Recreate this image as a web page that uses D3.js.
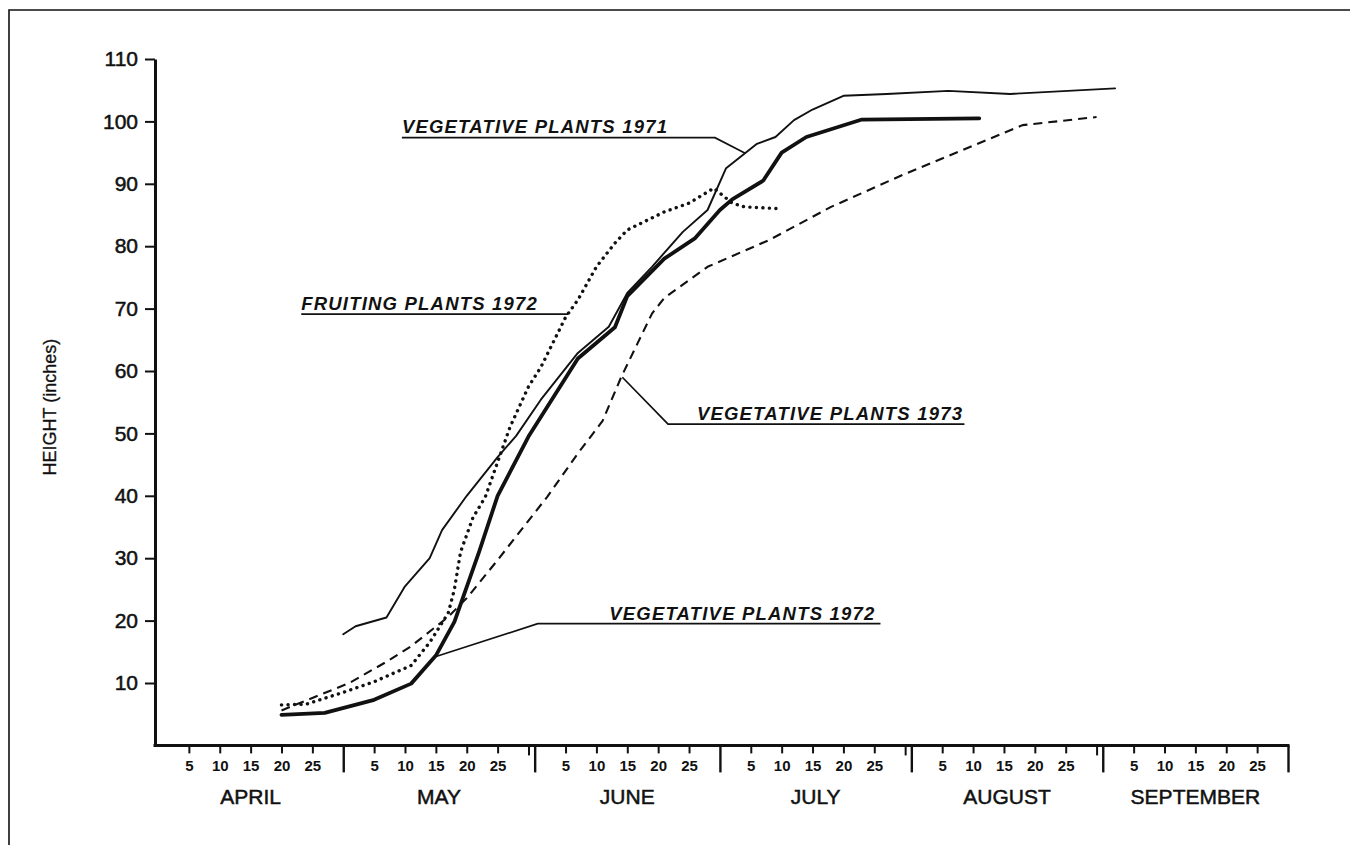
<!DOCTYPE html>
<html>
<head>
<meta charset="utf-8">
<script src="https://cdn.jsdelivr.net/npm/d3@7"></script>
<style>
  body { margin: 0; background: #fff; }
  svg { display: block; }
  text { fill: #111; }
</style>
</head>
<body>
<svg id="chart" width="1350" height="845"></svg>
<script>
// ---------- DATA ----------
const months = ["APRIL", "MAY", "JUNE", "JULY", "AUGUST", "SEPTEMBER"];
const dayTickLabels = [5, 10, 15, 20, 25];
const yTickValues = [10, 20, 30, 40, 50, 60, 70, 80, 90, 100, 110];
const yTitle = "HEIGHT (inches)";

// Vegetative plants 1972 (heavy solid line)
const veg1972Dates   = ["04-20","04-27","05-05","05-11","05-15","05-18","05-22","05-25","05-30","06-07","06-13","06-15","06-21","06-26","06-30","07-02","07-07","07-10","07-14","07-23","08-11"];
const veg1972Heights = [4.9, 5.2, 7.3, 9.9, 14.4, 19.8, 31, 40, 49.5, 62, 67, 72, 78, 81.3, 85.8, 87.5, 90.5, 95, 97.5, 100.3, 100.5];

// Vegetative plants 1971 (thin solid line)
const veg1971Dates   = ["04-30","05-02","05-07","05-10","05-14","05-16","05-20","05-25","05-28","06-01","06-07","06-12","06-15","06-19","06-24","06-28","07-01","07-06","07-09","07-12","07-15","07-20","07-27","08-06","08-16","09-02"];
const veg1971Heights = [17.8, 19.1, 20.5, 25.5, 30, 34.5, 40, 46.2, 49.6, 55.4, 62.9, 67.1, 72.5, 76.7, 82.3, 85.8, 92.5, 96.4, 97.5, 100.2, 101.9, 104.1, 104.4, 104.9, 104.4, 105.3];

// Fruiting plants 1972 (dotted line)
const fruit1972Dates   = ["04-20","04-24","04-30","05-05","05-11","05-14","05-17","05-18","05-19","05-21","05-23","05-27","05-30","06-01","06-05","06-07","06-10","06-13","06-15","06-21","06-25","06-29","07-02","07-04","07-10"];
const fruit1972Heights = [6.5, 6.6, 8.5, 10.2, 12.8, 16.5, 21.2, 25, 31, 36.5, 39.8, 51, 57.5, 60.6, 68.6, 71.4, 76.7, 80.5, 82.6, 85.5, 86.9, 89.3, 86.9, 86.3, 86];

// Vegetative plants 1973 (dashed line)
const veg1973Dates   = ["04-20","04-25","05-01","05-07","05-11","05-17","05-20","05-25","06-02","06-07","06-11","06-14","06-19","06-21","06-28","07-08","07-18","07-30","08-18","08-30"];
const veg1973Heights = [5.6, 7.6, 10, 13.4, 15.9, 20.6, 23.6, 29.7, 39.8, 46.8, 52, 59, 69.2, 71.7, 76.7, 81, 86.3, 91.6, 99.4, 100.7];

// Annotation texts
const labelTexts = ["VEGETATIVE PLANTS 1971", "FRUITING PLANTS 1972", "VEGETATIVE PLANTS 1973", "VEGETATIVE PLANTS 1972"];

// ---------- HELPERS ----------
const YEAR = 2001;
const md = s => new Date(Date.UTC(YEAR, +s.slice(0, 2) - 1, +s.slice(3)));
const mdf = (m, d) => new Date(Date.UTC(YEAR, m - 1, 0) + d * 864e5); // day d (fractional) of month m
const zip = (ds, vs) => ds.map((d, i) => ({ date: md(d), v: vs[i] }));

const svg = d3.select("#chart");
const ink = "#111";
const FONT = "'Liberation Sans', Arial, sans-serif";

// frame
svg.append("path")
  .attr("d", "M9,845V10H1350")
  .attr("fill", "none").attr("stroke", ink).attr("stroke-width", 1.6);

// ---------- SCALES ----------
const x = d3.scaleUtc()
  .domain([new Date(Date.UTC(YEAR, 2, 31)), new Date(Date.UTC(YEAR, 8, 30))])
  .range([158, 1288]);
const y = d3.scaleLinear().domain([0, 110]).range([745.4, 59]);
const axisX0 = 155;

// ---------- Y AXIS ----------
const yAxis = svg.append("g")
  .attr("transform", `translate(${axisX0},0)`)
  .call(d3.axisLeft(y).tickValues(yTickValues).tickSize(10).tickSizeOuter(0).tickPadding(7));
yAxis.select(".domain").attr("stroke", ink).attr("stroke-width", 3);
yAxis.selectAll(".tick line").attr("stroke", ink).attr("stroke-width", 2);
yAxis.selectAll(".tick text")
  .attr("font-family", FONT)
  .attr("font-size", 21).attr("fill", ink)
  .attr("stroke", ink).attr("stroke-width", 0.5);

svg.append("text")
  .attr("transform", `translate(56,${(y(0) + y(110)) / 2 + 5}) rotate(-90)`)
  .attr("text-anchor", "middle")
  .attr("font-family", FONT)
  .attr("font-size", 18)
  .attr("stroke", ink).attr("stroke-width", 0.3)
  .text(yTitle);

// ---------- X AXIS ----------
const monthNums = [4, 5, 6, 7, 8, 9];
const minorDates = [];
monthNums.forEach(m => dayTickLabels.forEach(d => minorDates.push(new Date(Date.UTC(YEAR, m - 1, d)))));
// day-30 ticks in 31-day months
const day30Dates = monthNums
  .filter(m => new Date(Date.UTC(YEAR, m, 0)).getUTCDate() === 31)
  .map(m => new Date(Date.UTC(YEAR, m - 1, 30)));
// month-end boundaries
const monthEnds = monthNums.map(m => new Date(Date.UTC(YEAR, m, 0)));

const y0 = y(0);
const gMinor = svg.append("g").attr("transform", `translate(0,${y0})`)
  .call(d3.axisBottom(x).tickValues(minorDates).tickSize(8).tickSizeOuter(0).tickPadding(7)
    .tickFormat(d => d.getUTCDate()));
gMinor.select(".domain").remove();
gMinor.selectAll(".tick line").attr("stroke", ink).attr("stroke-width", 2);
gMinor.selectAll(".tick text")
  .attr("font-family", FONT)
  .attr("font-size", 15).attr("font-weight", "bold").attr("fill", ink);

const g30 = svg.append("g").attr("transform", `translate(0,${y0})`)
  .call(d3.axisBottom(x).tickValues(day30Dates).tickSize(10).tickSizeOuter(0).tickFormat(""));
g30.select(".domain").remove();
g30.selectAll(".tick line").attr("stroke", ink).attr("stroke-width", 2);

const gMajor = svg.append("g").attr("transform", `translate(0,${y0})`)
  .call(d3.axisBottom(x).tickValues(monthEnds).tickSize(27).tickSizeOuter(0).tickFormat(""));
gMajor.select(".domain").remove();
gMajor.selectAll(".tick line").attr("stroke", ink).attr("stroke-width", 2.4);

// x axis line
svg.append("line")
  .attr("x1", axisX0).attr("x2", x.range()[1])
  .attr("y1", y0).attr("y2", y0)
  .attr("stroke", ink).attr("stroke-width", 3).attr("stroke-linecap", "square");

// month labels (centered mid-month)
svg.append("g").selectAll("text").data(months).join("text")
  .attr("x", (d, i) => {
    const start = i === 0 ? x.domain()[0] : monthEnds[i - 1];
    return (x(start) + x(monthEnds[i])) / 2;
  })
  .attr("y", y0 + 59)
  .attr("text-anchor", "middle")
  .attr("font-family", FONT)
  .attr("font-size", 21)
  .attr("stroke", ink).attr("stroke-width", 0.5)
  .text(d => d);

// ---------- LINES ----------
const line = d3.line().x(d => x(d.date)).y(d => y(d.v)).curve(d3.curveLinear);

const series = [
  { data: zip(veg1973Dates, veg1973Heights), w: 2.1, dash: "9,6", cap: "butt" },
  { data: zip(veg1971Dates, veg1971Heights), w: 1.9, dash: null, cap: "round" },
  { data: zip(fruit1972Dates, fruit1972Heights), w: 3.4, dash: "0.1,6.4", cap: "round" },
  { data: zip(veg1972Dates, veg1972Heights), w: 3.8, dash: null, cap: "round" }
];
svg.append("g").selectAll("path").data(series).join("path")
  .attr("d", s => line(s.data))
  .attr("fill", "none")
  .attr("stroke", ink)
  .attr("stroke-width", s => s.w)
  .attr("stroke-dasharray", s => s.dash)
  .attr("stroke-linecap", s => s.cap)
  .attr("stroke-linejoin", "round");

// ---------- ANNOTATIONS ----------
// leader paths defined in data coordinates (month, fractional day, height)
const P = (m, d, v) => [x(mdf(m, d)), y(v)];
const annotations = [
  { text: labelTexts[0], anchor: "start", tx: P(5, 9.5, 0)[0], ty: y(98.1),
    path: [P(5, 9.5, 97.4), P(6, 29.2, 97.4), P(7, 4.1, 94.9)] },
  { text: labelTexts[1], anchor: "start", tx: P(4, 23.2, 0)[0], ty: y(69.8),
    path: [P(4, 23.2, 69.1), P(6, 5.4, 69.1)] },
  { text: labelTexts[2], anchor: "end", tx: P(8, 8.4, 0)[0], ty: y(52.2),
    path: [P(6, 14.2, 59), P(6, 21.6, 51.5), P(8, 8.6, 51.5)] },
  { text: labelTexts[3], anchor: "end", tx: P(7, 25.2, 0)[0], ty: y(20.1),
    path: [P(5, 14.9, 14.2), P(6, 0.5, 19.5), P(7, 26, 19.5)] }
];
const gAnn = svg.append("g");
gAnn.selectAll("path").data(annotations).join("path")
  .attr("d", a => d3.line()(a.path))
  .attr("fill", "none").attr("stroke", ink).attr("stroke-width", 1.7);
gAnn.selectAll("text").data(annotations).join("text")
  .attr("x", a => a.tx).attr("y", a => a.ty)
  .attr("text-anchor", a => a.anchor)
  .attr("font-family", FONT)
  .attr("font-size", 18.5)
  .attr("font-weight", "bold")
  .attr("font-style", "italic")
  .attr("letter-spacing", 1.2)
  .text(a => a.text);
</script>
</body>
</html>
